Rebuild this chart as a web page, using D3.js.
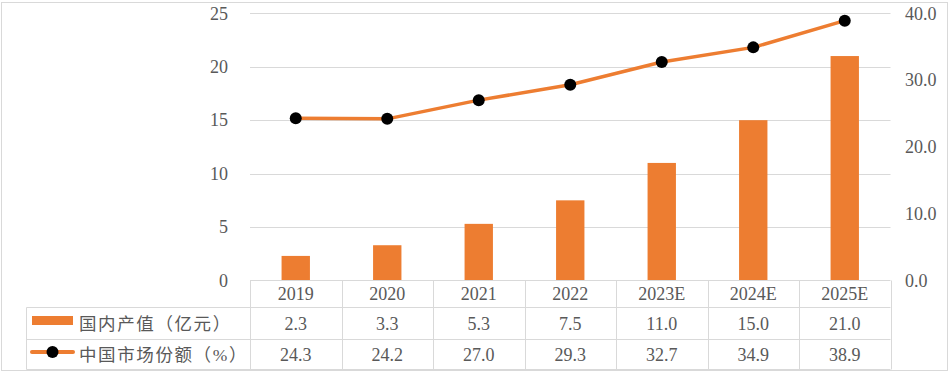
<!DOCTYPE html>
<html>
<head>
<meta charset="utf-8">
<script src="https://cdn.jsdelivr.net/npm/d3@7"></script>
<style>
  body { margin: 0; background: #fff; }
  text { font-family: "Liberation Serif", "Noto Sans CJK SC", serif; fill: #595959; }
</style>
</head>
<body>
<script>
var years = ["2019", "2020", "2021", "2022", "2023E", "2024E", "2025E"];
var output = [2.3, 3.3, 5.3, 7.5, 11.0, 15.0, 21.0];
var share = [24.3, 24.2, 27.0, 29.3, 32.7, 34.9, 38.9];
var leftTicks = [0, 5, 10, 15, 20, 25];
var rightTicks = [0, 10, 20, 30, 40];
var barName = "国内产值（亿元）";
var lineName = "中国市场份额（%）";

var width = 952, height = 377;
var orange = "#ed7d31";
var grid = "#d9d9d9";

var svg = d3.select("body").append("svg")
  .attr("width", width)
  .attr("height", height);

// outer frame
svg.append("rect")
  .attr("x", 1.5).attr("y", 2.5)
  .attr("width", 946).attr("height", 368)
  .attr("fill", "none")
  .attr("stroke", grid);

var x = d3.scaleBand()
  .domain(years)
  .range([250, 890.5]);

var y = d3.scaleLinear()
  .domain([0, 25])
  .range([280.5, 13.3]);

var y2 = d3.scaleLinear()
  .domain([0, 40])
  .range([280.5, 13.3]);

// gridlines
svg.append("g")
  .selectAll("line")
  .data(leftTicks.slice(1))
  .enter().append("line")
  .attr("x1", 250).attr("x2", 890.5)
  .attr("y1", function (d) { return Math.round(y(d)) + 0.5; })
  .attr("y2", function (d) { return Math.round(y(d)) + 0.5; })
  .attr("stroke", grid)
  .attr("stroke-width", 1);

// left axis labels
svg.append("g")
  .selectAll("text")
  .data(leftTicks)
  .enter().append("text")
  .attr("x", 228)
  .attr("y", function (d) { return y(d); })
  .attr("dy", "0.35em")
  .attr("text-anchor", "end")
  .style("font-size", "18px")
  .text(function (d) { return d; });

// right axis labels
svg.append("g")
  .selectAll("text")
  .data(rightTicks)
  .enter().append("text")
  .attr("x", 905)
  .attr("y", function (d) { return y2(d); })
  .attr("dy", "0.35em")
  .attr("text-anchor", "start")
  .style("font-size", "18px")
  .text(function (d) { return d3.format(".1f")(d); });

// bars
var barW = x.bandwidth() * 0.31;
svg.append("g")
  .selectAll("rect")
  .data(output)
  .enter().append("rect")
  .attr("x", function (d, i) { return x(years[i]) + (x.bandwidth() - barW) / 2; })
  .attr("y", function (d) { return y(d); })
  .attr("width", barW)
  .attr("height", function (d) { return y(0) - y(d); })
  .attr("fill", orange);

// line
var line = d3.line()
  .x(function (d, i) { return x(years[i]) + x.bandwidth() / 2; })
  .y(function (d) { return y2(d); });

svg.append("path")
  .datum(share)
  .attr("d", line)
  .attr("fill", "none")
  .attr("stroke", orange)
  .attr("stroke-width", 3.5)
  .attr("stroke-linejoin", "round");

svg.append("g")
  .selectAll("circle")
  .data(share)
  .enter().append("circle")
  .attr("cx", function (d, i) { return x(years[i]) + x.bandwidth() / 2; })
  .attr("cy", function (d) { return y2(d); })
  .attr("r", 6)
  .attr("fill", "#000");

// data table
var rowY = [280.5, 307.5, 339.5, 369.5];
var table = svg.append("g").attr("stroke", grid).attr("stroke-width", 1);

// horizontal lines
table.append("line").attr("x1", 250).attr("x2", 890.5).attr("y1", rowY[0]).attr("y2", rowY[0]);
[1, 2, 3].forEach(function (r) {
  table.append("line").attr("x1", 26.5).attr("x2", 890.5).attr("y1", rowY[r]).attr("y2", rowY[r]);
});
// vertical lines
table.append("line").attr("x1", 26.5).attr("x2", 26.5).attr("y1", rowY[1]).attr("y2", rowY[3]);
years.concat(["end"]).forEach(function (yr, i) {
  var xx = i < years.length ? x(yr) : x.range()[1];
  xx = Math.round(xx) + 0.5;
  table.append("line").attr("x1", xx).attr("x2", xx).attr("y1", rowY[0]).attr("y2", rowY[3]);
});

function cellText(row, values, fmt) {
  svg.append("g")
    .selectAll("text")
    .data(values)
    .enter().append("text")
    .attr("x", function (d, i) { return x(years[i]) + x.bandwidth() / 2; })
    .attr("y", (rowY[row] + rowY[row + 1]) / 2)
    .attr("dy", "0.35em")
    .attr("text-anchor", "middle")
    .style("font-size", "18px")
    .text(fmt);
}
cellText(0, years, function (d) { return d; });
cellText(1, output, function (d) { return d3.format(".1f")(d); });
cellText(2, share, function (d) { return d3.format(".1f")(d); });

// legend keys
svg.append("rect")
  .attr("x", 32).attr("y", 316)
  .attr("width", 41).attr("height", 9)
  .attr("fill", orange);
svg.append("line")
  .attr("x1", 32).attr("x2", 73)
  .attr("y1", 352).attr("y2", 352)
  .attr("stroke", orange).attr("stroke-width", 4)
  .attr("stroke-linecap", "round");
svg.append("circle")
  .attr("cx", 52.5).attr("cy", 352).attr("r", 6)
  .attr("fill", "#000");

svg.append("text")
  .attr("x", 79).attr("y", (rowY[1] + rowY[2]) / 2)
  .attr("dy", "0.36em")
  .style("font-size", "17.5px")
  .style("letter-spacing", "1.6px")
  .text(barName);
svg.append("text")
  .attr("x", 79).attr("y", (rowY[2] + rowY[3]) / 2)
  .attr("dy", "0.36em")
  .style("font-size", "17.5px")
  .style("letter-spacing", "1.6px")
  .text(lineName);
</script>
</body>
</html>
